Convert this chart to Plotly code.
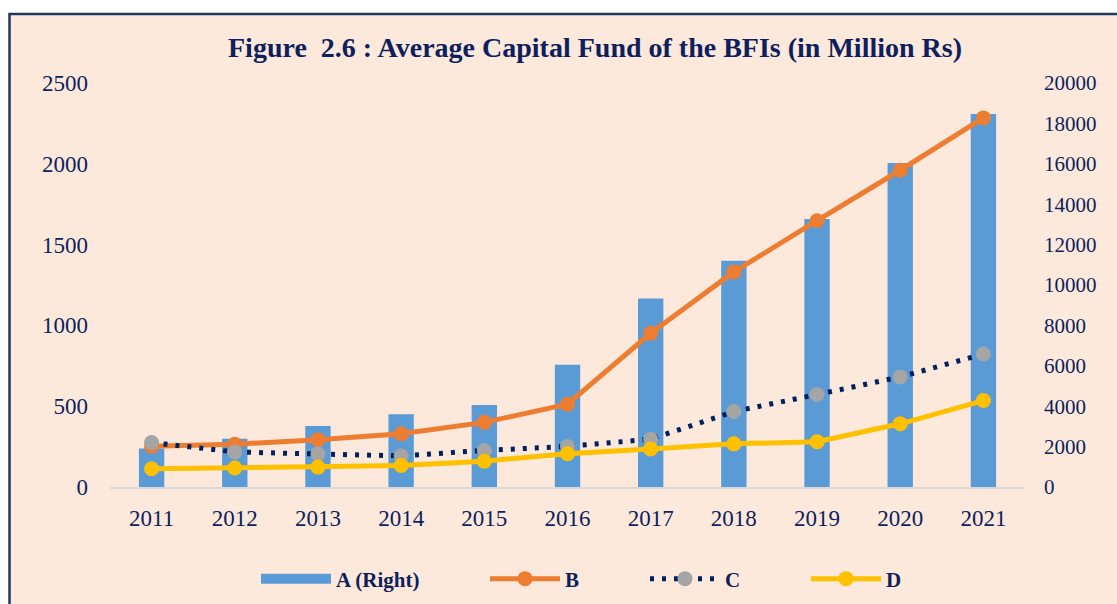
import plotly.graph_objects as go

years = ["2011", "2012", "2013", "2014", "2015", "2016", "2017", "2018", "2019", "2020", "2021"]
a_right = [1900, 2390, 3020, 3600, 4060, 6050, 9330, 11200, 13270, 16040, 18470]
b_vals = [252, 265, 292, 329, 400, 512, 951, 1331, 1648, 1960, 2284]
c_vals = [275, 217, 204, 193, 226, 251, 296, 467, 572, 681, 823]
d_vals = [113, 118, 123, 133, 160, 206, 235, 267, 280, 391, 535]
left_ticks = [0, 500, 1000, 1500, 2000, 2500]
right_ticks = [0, 2000, 4000, 6000, 8000, 10000, 12000, 14000, 16000, 18000, 20000]

NAVY = "#0D1F5C"
BLUE = "#5B9BD5"
ORANGE = "#ED7D31"
GRAY = "#A5A5A5"
YELLOW = "#FFC000"
DOTS = "#002060"
PEACH = "#FCE9DB"
SERIF = "Liberation Serif, Times New Roman, serif"

W, H = 1117, 604
L, R, T, B = 110, 1025, 83, 487.3


def px_x(x):
    return (x - L) / (R - L)


def px_y(y):
    return (B - y) / (B - T)


fig = go.Figure()

fig.add_trace(go.Bar(
    x=years, y=a_right, name="A (Right)", marker=dict(color=BLUE, line=dict(width=0)),
    yaxis="y", showlegend=False, legendgroup="A",
))
fig.add_trace(go.Scatter(
    x=[None], y=[None], name="A (Right)", mode="lines",
    line=dict(color=BLUE, width=11), yaxis="y", legend="legend", legendgroup="A",
))
fig.add_trace(go.Scatter(
    x=years, y=b_vals, name="B", mode="lines+markers",
    line=dict(color=ORANGE, width=5), marker=dict(color=ORANGE, size=15),
    yaxis="y2", legend="legend2",
))
fig.add_trace(go.Scatter(
    x=years, y=c_vals, name="C", mode="lines+markers",
    line=dict(color=DOTS, width=5, dash="4px,8px"), marker=dict(color=GRAY, size=15),
    yaxis="y2", legend="legend3",
))
fig.add_trace(go.Scatter(
    x=years, y=d_vals, name="D", mode="lines+markers",
    line=dict(color=YELLOW, width=5), marker=dict(color=YELLOW, size=15),
    yaxis="y2", legend="legend4",
))

leg_common = dict(
    orientation="h", xref="container", yref="container",
    yanchor="middle", y=1 - 579 / H, xanchor="left",
    font=dict(family=SERIF, size=21, color=NAVY, weight="bold"),
    bgcolor="rgba(0,0,0,0)", borderwidth=0, itemwidth=70,
)

fig.update_layout(
    width=W, height=H,
    margin=dict(l=L, r=W - R, t=T, b=H - B, pad=0, autoexpand=False),
    paper_bgcolor="white",
    plot_bgcolor="rgba(0,0,0,0)",
    title=dict(
        text="Figure\u00a0 2.6 : Average Capital Fund of the BFIs (in Million Rs)",
        x=595 / W, y=1 - 47 / H, xanchor="center", yanchor="middle",
        xref="container", yref="container",
        font=dict(family=SERIF, size=28, color=NAVY, weight="bold"),
    ),
    bargap=0.695,
    xaxis=dict(
        type="category", range=[-0.5, len(years) - 0.5], showgrid=False, showline=True,
        linecolor="#D9D9D9", linewidth=2,
        ticks="", tickfont=dict(family=SERIF, size=23, color=NAVY), ticklabelstandoff=9,
        zeroline=False,
    ),
    yaxis=dict(
        side="right", range=[0, 20000], tickvals=right_ticks, tickformat="d",
        showgrid=False, showline=False,
        zeroline=False, ticks="", tickfont=dict(family=SERIF, size=21, color=NAVY),
        ticklabelstandoff=18,
    ),
    yaxis2=dict(
        side="left", overlaying="y", range=[0, 2500], tickvals=left_ticks, tickformat="d",
        showgrid=False, showline=False, zeroline=False, ticks="",
        tickfont=dict(family=SERIF, size=23, color=NAVY), ticklabelstandoff=21,
    ),
    legend=dict(leg_common, x=256 / W),
    legend2=dict(leg_common, x=485 / W),
    legend3=dict(leg_common, x=645 / W),
    legend4=dict(leg_common, x=806 / W),
    shapes=[dict(
        type="rect", xref="paper", yref="paper", layer="below",
        x0=px_x(9.5), x1=px_x(1130), y0=px_y(620), y1=px_y(14),
        fillcolor=PEACH, line=dict(color="#1F3864", width=2.5),
    )],
    showlegend=True,
)

fig.write_html(
    "out.html",
    config={"displayModeBar": False},
    post_script="document.body.style.margin='0';document.body.style.overflow='hidden';",
)
